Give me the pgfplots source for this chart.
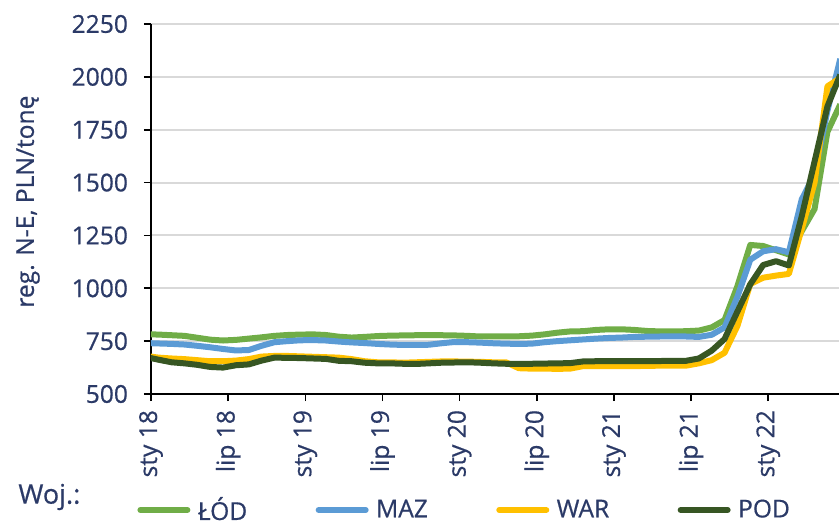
\documentclass[border=0pt]{standalone}
\usepackage{fontspec}
\setmainfont{Open Sans}[FakeBold=0.6]
\usepackage{pgfplots}
\usepackage{pgfplotstable}
\pgfplotsset{compat=1.18}

\definecolor{navy}{HTML}{2B3A67}
\definecolor{lodc}{HTML}{70AD47}
\definecolor{mazc}{HTML}{5B9BD5}
\definecolor{warc}{HTML}{FFC000}
\definecolor{podc}{HTML}{375623}
\definecolor{gridc}{HTML}{D9D9D9}

% monthly prices, m = months since Jan 2018 (points sit mid-month)
\pgfplotstableread{
m   lod   maz   war   pod
-1  783   741   680   675
0   781   739   672   662
1   778   737   668   650
2   775   734   665   645
3   766   728   660   638
4   757   721   655   628
5   753   713   655   625
6   756   706   658   636
7   762   708   665   640
8   768   728   677   658
9   775   745   680   672
10  779   750   680   671
11  781   754   678   670
12  782   755   676   668
13  779   753   674   666
14  771   748   672   657
15  767   744   665   655
16  770   741   655   648
17  774   737   650   645
18  776   734   650   645
19  777   732   648   643
20  778   732   650   642
21  779   733   652   645
22  778   740   654   648
23  777   746   654   649
24  775   745   653   650
25  772   743   652   648
26  772   740   650   645
27  772   738   650   643
28  773   737   622   642
29  776   738   620   643
30  782   745   620   644
31  790   750   619   645
32  796   754   620   646
33  797   758   632   654
34  803   762   632   655
35  806   765   632   655
36  806   767   632   655
37  803   770   632   655
38  798   771   633   656
39  796   772   634   656
40  796   773   634   657
41  797   772   634   657
42  800   770   645   668
43  815   780   660   705
44  850   815   695   760
45  1010  960   822   890
46  1205  1135  1020  1019
47  1200  1175  1050  1110
48  1180  1185  1060  1128
49  1160  1170  1068  1108
50  1270  1420  1280  1340
51  1375  1540  1500  1600
52  1740  1840  1955  1860
53  1870  2085  1995  2010
}\prices

\begin{document}
\begin{tikzpicture}
\useasboundingbox (-75.5pt,-65pt) rectangle (344pt,197pt);
\begin{axis}[
  name=ax, at={(0,0)}, anchor=south west,
  scale only axis, width=344pt, height=185pt,
  xmin=0, xmax=53.5, ymin=500, ymax=2250,
  ytick={500,750,...,2250},
  xtick={0,6,...,48},
  xticklabels={sty 18,lip 18,sty 19,lip 19,sty 20,lip 20,sty 21,lip 21,sty 22},
  axis x line*=bottom, axis y line*=left,
  axis line style={black, line width=0.9pt},
  tick align=outside, major tick length=3.5pt,
  tick style={black, line width=0.8pt},
  ymajorgrids, grid style={gridc, line width=1pt},
  ticklabel style={font=\fontsize{12.3}{14}\selectfont, text=navy},
  y tick label style={xshift=-4.5pt},
  x tick label style={rotate=90, anchor=east, xshift=-1pt},
  /pgf/number format/assume math mode=true,
  /pgf/number format/1000 sep={},
  ylabel={reg. N-E, PLN/tonę},
  ylabel style={font=\fontsize{12.3}{14}\selectfont, text=navy,
    at={(axis description cs:0,0.52)}, anchor=center, yshift=61.5pt},
  legend columns=4,
  legend style={draw=none, fill=none, inner sep=0pt,
    at={(axis description cs:0,0)}, anchor=west, xshift=-7pt, yshift=-58pt,
    font=\fontsize{12.3}{14}\selectfont, text=navy,
    nodes={inner sep=1.2pt},
    /tikz/every even column/.append style={column sep=33pt},
    /tikz/every odd column/.append style={column sep=2.5pt}},
  legend image code/.code={\draw[#1, line cap=round] (0pt,0pt) -- (23.5pt,0pt);},
  every axis plot/.append style={line width=3pt, line join=round},
]
\addplot[lodc] table[x expr=\thisrow{m}+0.6, y=lod] {\prices};
\addlegendentry{ŁÓD}
\addplot[mazc] table[x expr=\thisrow{m}+0.6, y=maz] {\prices};
\addlegendentry{MAZ}
\addplot[warc] table[x expr=\thisrow{m}+0.6, y=war] {\prices};
\addlegendentry{WAR}
\addplot[podc] table[x expr=\thisrow{m}+0.6, y=pod] {\prices};
\addlegendentry{POD}
\end{axis}
\node[anchor=west, inner sep=0pt, text=navy, font=\fontsize{13.5}{15}\selectfont] at (-66.5pt,-51.5pt) {Woj.:};
\end{tikzpicture}
\end{document}
